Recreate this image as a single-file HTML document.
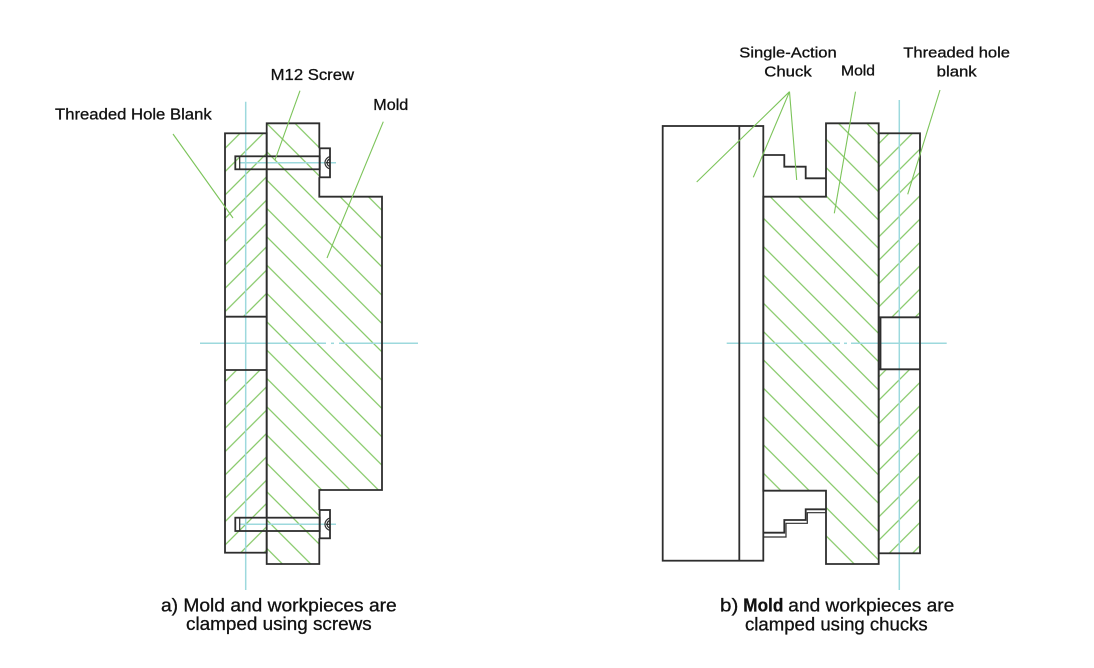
<!DOCTYPE html>
<html><head><meta charset="utf-8"><style>
html,body{margin:0;padding:0;background:#fff;}
svg{display:block;}
text{font-family:"Liberation Sans",Arial,sans-serif;fill:#111;stroke:#111;stroke-width:0.3;}
</style></head><body>
<svg width="1094" height="668" viewBox="0 0 1094 668" xmlns="http://www.w3.org/2000/svg">
<defs>
<pattern id="mA" patternUnits="userSpaceOnUse" width="20.03" height="10" patternTransform="translate(15.87,0) rotate(-45)"><line x1="10.015" y1="-2" x2="10.015" y2="12" stroke="#76c254" stroke-width="1.1"/></pattern>
<pattern id="bA" patternUnits="userSpaceOnUse" width="16.5" height="10" patternTransform="translate(-11.67,0) rotate(45)"><line x1="8.25" y1="-2" x2="8.25" y2="12" stroke="#76c254" stroke-width="1.1"/></pattern>
<pattern id="mB" patternUnits="userSpaceOnUse" width="20.03" height="10" patternTransform="translate(-7.17,0) rotate(-45)"><line x1="10.015" y1="-2" x2="10.015" y2="12" stroke="#76c254" stroke-width="1.1"/></pattern>
<pattern id="bB" patternUnits="userSpaceOnUse" width="16.5" height="10" patternTransform="translate(7.33,0) rotate(45)"><line x1="8.25" y1="-2" x2="8.25" y2="12" stroke="#76c254" stroke-width="1.1"/></pattern>
</defs>

<!-- ===== Figure a ===== -->
<polygon points="266.7,123.3 319.3,123.3 319.3,196.7 382,196.7 382,490 319.3,490 319.3,564 266.7,564" fill="url(#mA)"/>
<rect x="225" y="133.3" width="41.7" height="183.4" fill="url(#bA)"/>
<rect x="225" y="370" width="41.7" height="182.7" fill="url(#bA)"/>

<g stroke="#9dd9dd" stroke-width="1.5" fill="none">
<line x1="245.7" y1="101.7" x2="245.7" y2="590"/>
<line x1="200" y1="343.3" x2="326" y2="343.3"/>
<line x1="331" y1="343.3" x2="334" y2="343.3"/>
<line x1="339" y1="343.3" x2="418" y2="343.3"/>
<line x1="240" y1="162.7" x2="336" y2="162.7"/>
<line x1="240" y1="524.3" x2="336" y2="524.3"/>
</g>

<g stroke="#2e2e2e" stroke-width="1.8" fill="none" stroke-linejoin="miter">
<rect x="225" y="133.3" width="41.7" height="419.4"/>
<line x1="225" y1="316.7" x2="266.7" y2="316.7"/>
<line x1="225" y1="370" x2="266.7" y2="370"/>
<polyline points="266.7,156.3 266.7,123.3 319.3,123.3 319.3,148.3"/>
<polyline points="319.3,177.3 319.3,196.7 382,196.7 382,490 319.3,490 319.3,510"/>
<polyline points="319.3,538.3 319.3,564 266.7,564 266.7,531"/>
<line x1="266.7" y1="169.3" x2="266.7" y2="517.7"/>
<rect x="235.3" y="156.3" width="84.4" height="13"/>
<rect x="319.7" y="148.3" width="10.3" height="29"/>
<rect x="235.3" y="517.7" width="84.4" height="13.3"/>
<rect x="319.7" y="510" width="10.3" height="28.3"/>
</g>
<g stroke="#2e2e2e" stroke-width="1.2" fill="none">
<line x1="239.7" y1="156.3" x2="239.7" y2="169.3"/>
<line x1="239.7" y1="517.7" x2="239.7" y2="531"/>
<path d="M330,156.5 A7,6.5 0 0 0 330,169"/>
<path d="M330,159 A4.5,4 0 0 0 330,166.5"/>
<line x1="326" y1="162.7" x2="330" y2="162.7"/>
<path d="M330,518 A7,6.5 0 0 0 330,530.5"/>
<path d="M330,520.5 A4.5,4 0 0 0 330,528"/>
<line x1="326" y1="524.3" x2="330" y2="524.3"/>
</g>

<g stroke="#7cc45a" stroke-width="1.1">
<line x1="173" y1="134" x2="233" y2="218"/>
<line x1="300" y1="90.7" x2="275" y2="160"/>
<line x1="383.3" y1="121.7" x2="327" y2="258"/>
</g>

<text x="55" y="119.3" font-size="15.5" textLength="156.7" lengthAdjust="spacingAndGlyphs">Threaded Hole Blank</text>
<text x="270.7" y="80" font-size="15.5" textLength="83.3" lengthAdjust="spacingAndGlyphs">M12 Screw</text>
<text x="373.3" y="110" font-size="15.5" textLength="35" lengthAdjust="spacingAndGlyphs">Mold</text>

<text x="161" y="611.7" font-size="18.5" textLength="235.7" lengthAdjust="spacingAndGlyphs">a) Mold and workpieces are</text>
<text x="186" y="630" font-size="18.5" textLength="185.7" lengthAdjust="spacingAndGlyphs">clamped using screws</text>

<!-- ===== Figure b ===== -->
<polygon points="826,123.3 878.7,123.3 878.7,564 826,564 826,490.7 763.3,490.7 763.3,196.7 826,196.7" fill="url(#mB)"/>
<rect x="878.7" y="133.3" width="41.3" height="184" fill="url(#bB)"/>
<rect x="878.7" y="369.3" width="41.3" height="184" fill="url(#bB)"/>

<g stroke="#9dd9dd" stroke-width="1.5" fill="none">
<line x1="899.3" y1="100" x2="899.3" y2="590"/>
<line x1="726.7" y1="343.3" x2="840" y2="343.3"/>
<line x1="844" y1="343.3" x2="847" y2="343.3"/>
<line x1="851" y1="343.3" x2="946.7" y2="343.3"/>
</g>

<g stroke="#2e2e2e" stroke-width="1.8" fill="none">
<rect x="662.7" y="126" width="100.6" height="434.7"/>
<line x1="739.3" y1="126" x2="739.3" y2="560.7"/>
<polyline points="763.3,155 784.3,155 784.3,166.7 805.7,166.7 805.7,178.3 826,178.3"/>
<polygon points="826,123.3 878.7,123.3 878.7,564 826,564 826,490.7 763.3,490.7 763.3,196.7 826,196.7"/>
<rect x="878.7" y="133.3" width="41.3" height="420"/>
<line x1="878.7" y1="317.3" x2="920" y2="317.3"/>
<line x1="878.7" y1="369.3" x2="920" y2="369.3"/>
<line x1="880.5" y1="317.3" x2="880.5" y2="369.3"/>
<polyline points="826,509.3 805.7,509.3 805.7,520 784.3,520 784.3,532.7 763.3,532.7"/>
</g>
<g stroke="#2e2e2e" stroke-width="1.2" fill="none">
<polyline points="826,512.7 807.3,512.7 807.3,523.3 786,523.3 786,537 763.3,537"/>
</g>

<g stroke="#7cc45a" stroke-width="1.1">
<line x1="789.5" y1="91.7" x2="696.7" y2="182"/>
<line x1="789.5" y1="91.7" x2="753.3" y2="177.3"/>
<line x1="789.5" y1="91.7" x2="796.7" y2="180"/>
<line x1="855.5" y1="91.7" x2="834.3" y2="213.3"/>
<line x1="940" y1="90" x2="907.7" y2="194.3"/>
</g>

<text x="739.3" y="57.7" font-size="14.5" textLength="97.4" lengthAdjust="spacingAndGlyphs">Single-Action</text>
<text x="764.3" y="76.7" font-size="14.5" textLength="47.4" lengthAdjust="spacingAndGlyphs">Chuck</text>
<text x="841" y="75.7" font-size="14.5" textLength="34" lengthAdjust="spacingAndGlyphs">Mold</text>
<text x="903.3" y="57.7" font-size="14.5" textLength="106.7" lengthAdjust="spacingAndGlyphs">Threaded hole</text>
<text x="936.7" y="76.7" font-size="14.5" textLength="40" lengthAdjust="spacingAndGlyphs">blank</text>

<text x="720" y="611.3" font-size="18.5" textLength="18.3" lengthAdjust="spacingAndGlyphs">b)</text>
<text x="743.3" y="611.3" font-size="18.5" font-weight="bold" textLength="40" lengthAdjust="spacingAndGlyphs">Mold</text>
<text x="788.3" y="611.3" font-size="18.5" textLength="166" lengthAdjust="spacingAndGlyphs">and workpieces are</text>
<text x="745" y="630.7" font-size="18.5" textLength="182.7" lengthAdjust="spacingAndGlyphs">clamped using chucks</text>
</svg>
</body></html>
